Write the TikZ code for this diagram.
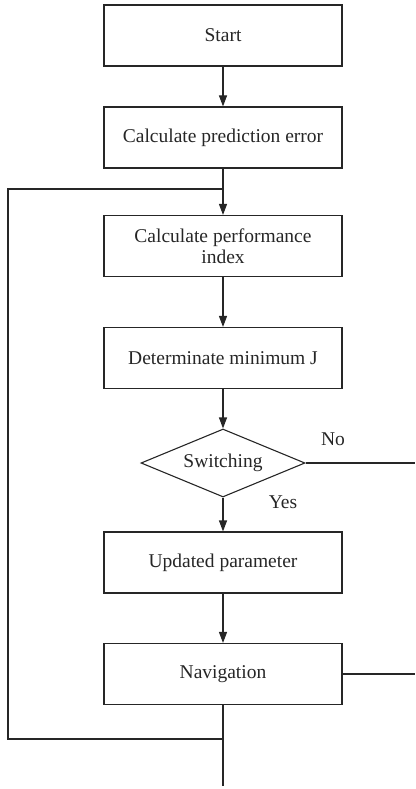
\documentclass[tikz,border=0pt]{standalone}
\usepackage{fontspec}
\setmainfont{Liberation Serif}
\usetikzlibrary{shapes.geometric,arrows.meta}
\begin{document}
\begin{tikzpicture}[x=1pt,y=-1pt,
  line width=1.1pt, draw={black!85},
  box/.style={draw, rectangle, minimum width=238pt, minimum height=61pt, inner sep=0pt, align=center, font=\fontsize{19.5}{21}\selectfont, text=black!85},
  dec/.style={draw, diamond, aspect=2.41, minimum width=164pt, minimum height=68pt, inner sep=0pt, font=\fontsize{19.5}{21}\selectfont, text=black!85},
  lbl/.style={font=\fontsize{19.5}{21}\selectfont, text=black!85, inner sep=0pt},
  arr/.style={-{Triangle[length=11pt,width=8pt]}}]
\useasboundingbox (0,0) rectangle (415,789);
\node[box] (b1) at (223,35.5) {Start};
\node[box] (b2) at (223,137.5) {Calculate prediction error};
\node[box] (b3) at (223,246) {Calculate performance\\index};
\node[box] (b4) at (223,358) {Determinate minimum J};
\node[dec] (d) at (223,463) {Switching};
\node[box] (b5) at (223,562.5) {Updated parameter};
\node[box] (b6) at (223,674) {Navigation};
\node[lbl] (no) at (333,439) {No};
\node[lbl] (yes) at (283,502) {Yes};
\coordinate (jt) at (223,189);
\coordinate (tl) at (8,189);
\coordinate (bl) at (8,739);
\coordinate (jb) at (223,739);
\coordinate (end) at (223,786);
\coordinate (r1) at (415,463);
\coordinate (r2) at (415,674);
\draw[arr] (b1) -- (b2);
\draw[arr] (b2) -- (b3);
\draw[arr] (b3) -- (b4);
\draw[arr] (b4) -- (d);
\draw[arr] (d) -- (b5);
\draw[arr] (b5) -- (b6);
\draw (b6.south) -- (end);
\draw (jb) -- (bl) -- (tl) -- (jt);
\draw (d.east) -- (r1);
\draw (b6.east) -- (r2);
\end{tikzpicture}
\end{document}
